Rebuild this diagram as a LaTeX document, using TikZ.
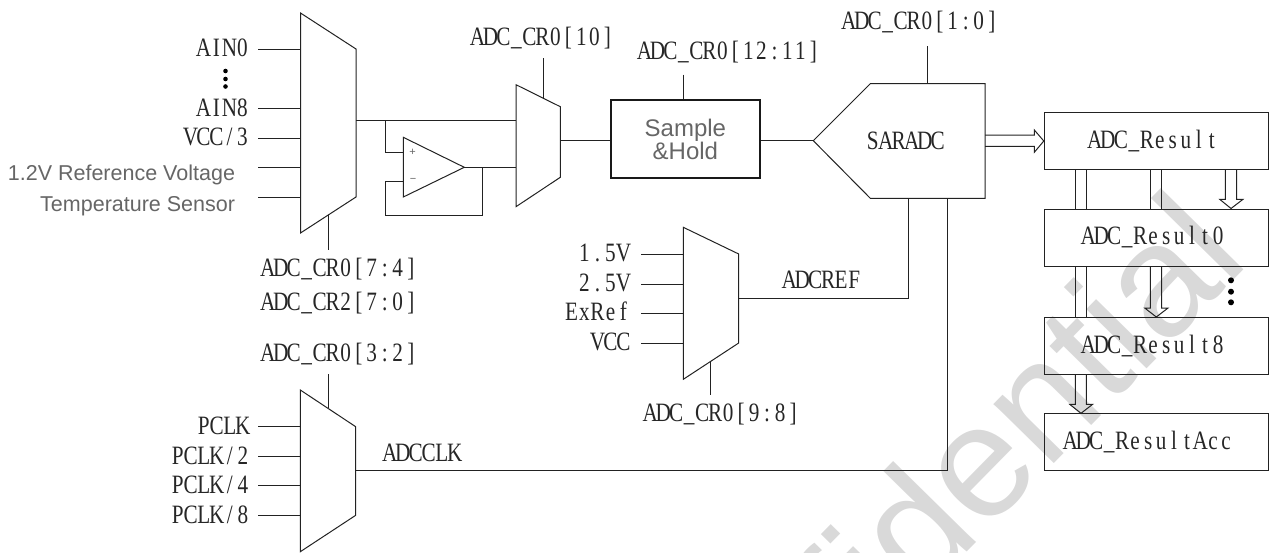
\documentclass[tikz,border=0pt]{standalone}
\usepackage{fontspec}
\setmainfont{Liberation Sans}
\newfontfamily\cnserif[FakeStretch=0.8]{Liberation Serif}
\def\msA#1{\ifx#1\relax\else\makebox[13pt]{#1}\expandafter\msA\fi}
\newcommand{\ms}[1]{{\cnserif\fontsize{26.5}{26.5}\selectfont\msA#1\relax}}
\definecolor{ln}{HTML}{222222}
\definecolor{gt}{HTML}{666666}
\definecolor{wmk}{HTML}{D9D9D9}
\newcommand{\dnarr}[6]{% x1,x2,fromnode,base,tonode,xc
  \draw[wire] (#1,0 |- #3.south) -- (#1,#4) -- ({#1-5.6},#4) -- (#6,0 |- #5.north) -- ({#2+6.3},#4) -- (#2,#4) -- (#2,0 |- #3.south);}
\newcommand{\dnplain}[4]{% x1,x2,fromnode,tonode
  \draw[wire] (#1,0 |- #3.south) -- (#1,0 |- #4.north);
  \draw[wire] (#2,0 |- #3.south) -- (#2,0 |- #4.north);}
\begin{document}
\begin{tikzpicture}[x=1pt,y=-1pt,
  wire/.style={draw=ln,line width=1pt,line join=miter},
  lab/.style={inner sep=0pt,outer sep=0pt,text height=17pt,text depth=0pt,text=black!85},
  slab/.style={inner sep=0pt,outer sep=0pt,text=gt,font=\fontsize{21.5}{21.5}\selectfont},
  resbox/.style={draw=ln,line width=1pt,inner sep=0pt,minimum width=223.7pt,minimum height=57pt,text=black!85},
  dotc/.style={circle,fill=black,inner sep=0pt,minimum size=#1}]
\useasboundingbox (0,0) rectangle (1271,552);
\begin{scope}
\clip (0,0) rectangle (1271,552);
\node[rotate=45.5,text=wmk,font=\fontsize{160}{160}\selectfont] (wm) at (915,523) {Confidential};
\end{scope}

% --- input mux
\draw[wire] (300.5,13) coordinate (m1tl) -- (356,49) coordinate (m1tr) -- (356,197) coordinate (m1br) -- (300.5,233) coordinate (m1bl) -- cycle;
\foreach \nm/\yy in {m1a/49,m1b/108,m1c/138,m1d/167,m1e/197}{
  \coordinate (\nm) at (258,\yy);
  \draw[wire] (\nm) -- (300.5,\yy);}
\node[lab,anchor=east] (ain0) at (249,48) {\ms{AIN0}};
\node[dotc=4.6pt] (d1) at (225.5,71) {};
\node[dotc=4.6pt] (d2) at (225.5,79) {};
\node[dotc=4.6pt] (d3) at (225.5,86.5) {};
\node[lab,anchor=east] (ain8) at (249,108) {\ms{AIN8}};
\node[lab,anchor=east] (vcc3) at (249,137) {\ms{VCC/3}};
\node[slab,anchor=east] (ref) at (235,175) {1.2V Reference Voltage};
\node[slab,anchor=east] (temp) at (235,206.5) {Temperature Sensor};
\coordinate (m1ctl) at (328.3,215);
\coordinate (m1cte) at (328.3,250);
\draw[wire] (m1ctl) -- (m1cte);
\node[lab] (cr74) at (339.3,268) {\ms{ADC\_CR0[7:4]}};
\node[lab] (cr20) at (339.3,301.5) {\ms{ADC\_CR2[7:0]}};

% --- second mux and op amp
\draw[wire] (516,84.7) coordinate (m2tl) -- (560.3,106.7) coordinate (m2tr) -- (560.3,177.3) coordinate (m2br) -- (516,206.7) coordinate (m2bl) -- cycle;
\coordinate (m1out) at (356,120);
\coordinate (m2in) at (516,120);
\draw[wire] (m1out) -- (m2in);
\coordinate (bj) at (385.3,120);
\draw[wire] (403.3,137.3) coordinate (oa1) -- (464.3,167.3) coordinate (oatip) -- (403.3,197) coordinate (oa2) -- cycle;
\draw[wire] (bj) |- (403.3,152.7) coordinate (oap);
\coordinate (m2inb) at (516,167.3);
\draw[wire] (oatip) -- (m2inb);
\coordinate (fbj) at (482.7,167.3);
\draw[wire] (fbj) -- (482.7,215) -- (385.3,215) -- (385.3,181.7) -- (403.3,181.7) coordinate (oan);
\node[inner sep=0pt,text=gt,font=\fontsize{11}{11}\selectfont] (plus) at (412.5,152) {+};
\node[inner sep=0pt,text=gt,font=\fontsize{11}{11}\selectfont] (minus) at (413,180) {−};
\coordinate (m2c) at (543.7,97.7);
\coordinate (m2ce) at (543.7,58);
\draw[wire] (m2c) -- (m2ce);
\node[lab] (cr10) at (542.5,37) {\ms{ADC\_CR0[10]}};

% --- sample and hold
\node[draw=black!90,line width=2pt,inner sep=0pt,minimum width=148.7pt,minimum height=78.3pt,text=gt,font=\fontsize{24}{23}\selectfont] (sh) at (685.35,139.15) {\raisebox{10pt}{\parbox{100pt}{\centering Sample\\\&Hold}}};
\coordinate (m2out) at (560.3,140.7);
\draw[wire] (m2out) -- (sh.west |- m2out);
\coordinate (shce) at (683,74.7);
\draw[wire] (shce) -- (shce |- sh.north);
\node[lab] (cr1211) at (729,51) {\ms{ADC\_CR0[12:11]}};

% --- SAR ADC
\draw[wire] (813.3,140.7) coordinate (saT) -- (870.3,83.7) coordinate (saA) -- (985,83.7) coordinate (saB) -- (985,198.3) coordinate (saC) -- (870.3,198.3) coordinate (saD) -- cycle;
\node[lab] (sar) at (905.3,141) {\ms{SARADC}};
\draw[wire] (sh.east |- saT) -- (saT);
\coordinate (sace) at (927.3,46);
\draw[wire] (sace) -- (sace |- saA);
\node[lab] (cr10b) at (920.3,21) {\ms{ADC\_CR0[1:0]}};

% --- reference mux
\draw[wire] (683.3,227.3) coordinate (m3tl) -- (738.7,254) coordinate (m3tr) -- (738.7,343) coordinate (m3br) -- (683.3,379.3) coordinate (m3bl) -- cycle;
\foreach \nm/\yy in {m3a/254,m3b/284,m3c/313.3,m3d/343}{
  \coordinate (\nm) at (641.3,\yy);
  \draw[wire] (\nm) -- (683.3,\yy);}
\node[lab,anchor=east] (v15) at (630,253) {\ms{1.5V}};
\node[lab,anchor=east] (v25) at (630,283) {\ms{2.5V}};
\node[lab,anchor=east] (exr) at (630,312) {\ms{ExRef}};
\node[lab,anchor=east] (vcc) at (630,342) {\ms{VCC}};
\coordinate (m3c) at (710.7,361.3);
\coordinate (m3ce) at (710.7,395.3);
\draw[wire] (m3c) -- (m3ce);
\node[lab] (cr98) at (721.7,413) {\ms{ADC\_CR0[9:8]}};
\coordinate (m3out) at (738.7,298.5);
\draw[wire] (908.3,198.3) -- (908.3,298.5) -- (m3out);
\node[lab] (adcref) at (821.7,280) {\ms{ADCREF}};

% --- clock mux
\draw[wire] (300.3,390) coordinate (m4tl) -- (355.7,426.7) coordinate (m4tr) -- (355.7,515.3) coordinate (m4br) -- (300.3,551.7) coordinate (m4bl) -- cycle;
\foreach \nm/\yy in {m4a/426.7,m4b/456.3,m4c/485.7,m4d/515.3}{
  \coordinate (\nm) at (258.3,\yy);
  \draw[wire] (\nm) -- (300.3,\yy);}
\node[lab,anchor=east] (pc1) at (249.3,426) {\ms{PCLK}};
\node[lab,anchor=east] (pc2) at (249.3,455.5) {\ms{PCLK/2}};
\node[lab,anchor=east] (pc4) at (249.3,485) {\ms{PCLK/4}};
\node[lab,anchor=east] (pc8) at (249.3,514.5) {\ms{PCLK/8}};
\coordinate (m4c1) at (328,408.3);
\coordinate (m4ce) at (328,374);
\draw[wire] (m4c1) -- (m4ce);
\node[lab] (cr32) at (339.3,352.5) {\ms{ADC\_CR0[3:2]}};
\coordinate (m4out) at (355.7,470.7);
\draw[wire] (947,198.3) -- (947,470.7) -- (m4out);
\node[lab] (adcclk) at (422.3,453.3) {\ms{ADCCLK}};

% --- result registers
\node[resbox] (r) at (1156.15,141) {\raisebox{2.5pt}{\ms{ADC\_Result}\kern 5.6pt}};
\node[resbox] (r0) at (1156.15,237.5) {\raisebox{2.5pt}{\ms{ADC\_Result0}\kern 6pt}};
\node[resbox] (r8) at (1156.15,346) {\raisebox{3pt}{\ms{ADC\_Result8}\kern 6pt}};
\node[resbox] (ra) at (1156.15,442.3) {\raisebox{1.5pt}{\ms{ADC\_ResultAcc}\kern 16pt}};

\draw[wire] (985,135) -- (1034.3,135) -- (1034.3,130) -- (r.west) -- (1034.3,152.3) -- (1034.3,146.3) -- (985,146.3);

\dnplain{1075.3}{1086.3}{r}{r0}
\dnplain{1150.3}{1161.7}{r}{r0}
\dnarr{1225.3}{1236.7}{r}{199.3}{r0}{1231}
\dnplain{1075.3}{1086.3}{r0}{r8}
\dnarr{1150.3}{1161.7}{r0}{308}{r8}{1156.3}
\dnarr{1075.3}{1086.3}{r8}{404.3}{ra}{1081}
\node[dotc=6pt] (e1) at (1231,280.3) {};
\node[dotc=6pt] (e2) at (1231,291.7) {};
\node[dotc=6pt] (e3) at (1231,302.3) {};
\end{tikzpicture}
\end{document}
